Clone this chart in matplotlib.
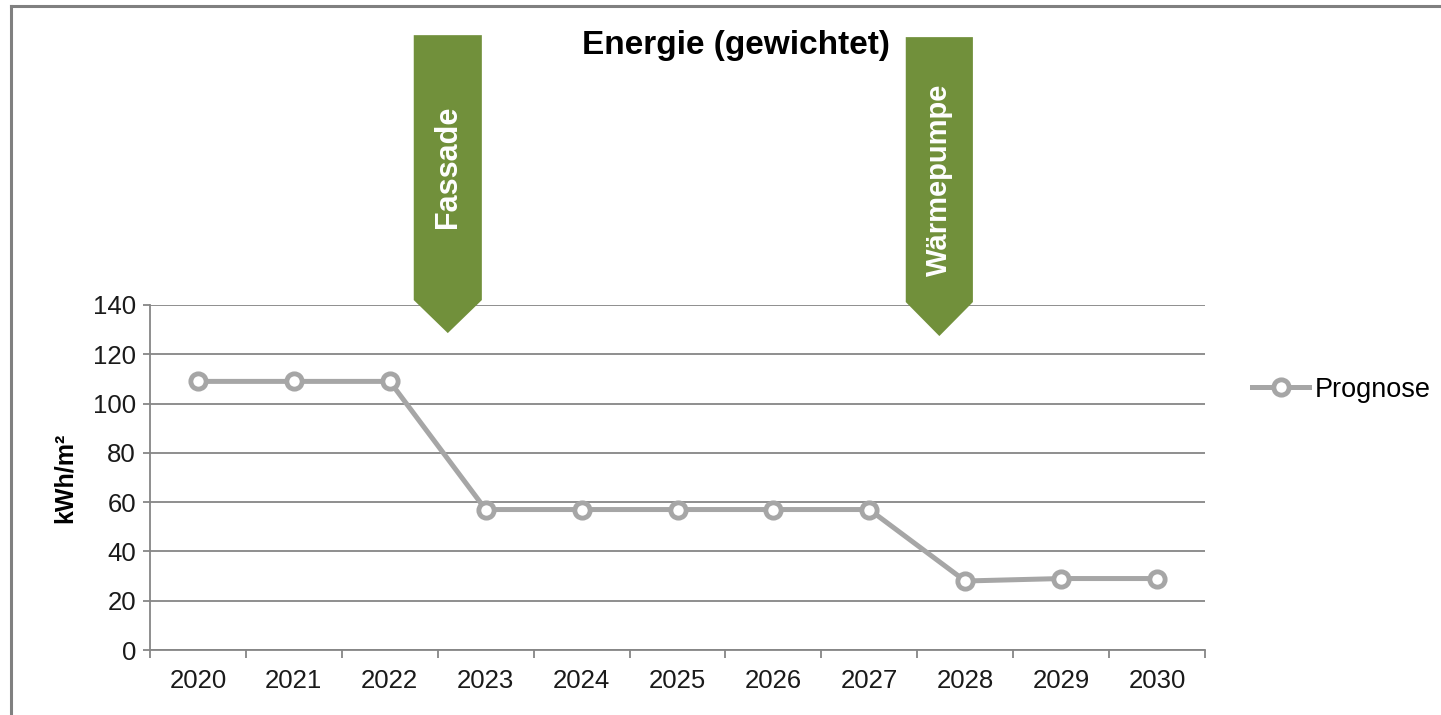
import matplotlib
matplotlib.use("Agg")
import matplotlib.pyplot as plt
from matplotlib.patches import Polygon
from matplotlib.lines import Line2D
import numpy as np

plt.rcParams['font.family'] = ['Liberation Sans', 'DejaVu Sans']

years = ['2020', '2021', '2022', '2023', '2024', '2025', '2026', '2027', '2028', '2029', '2030']
prognose = [109, 109, 109, 57, 57, 57, 57, 57, 28, 29, 29]
y_ticks = [0, 20, 40, 60, 80, 100, 120, 140]

# measure markers: label, left, right, top, box bottom, tip, text y (data units)
markers = [
    ("Fassade", 2.25, 2.96, 249.5, 142.0, 128.6, 196.0),
    ("Wärmepumpe", 7.38, 8.08, 248.7, 141.2, 127.4, 191.0),
]

line_grey = '#a6a6a6'
grid_grey = '#868686'
green = '#71903b'

fig = plt.figure(figsize=(14.41, 7.15), dpi=100)
ax = fig.add_axes([150 / 1441, 65 / 715, 1055 / 1441, 345 / 715])

x = np.arange(len(years))
ax.plot(x, prognose, color=line_grey, lw=3.6, marker='o', ms=11,
        mfc='white', mec=line_grey, mew=3.5, label='Prognose', zorder=3)

ax.set_xlim(-0.5, len(years) - 0.5)
ax.set_ylim(0, 140)
ax.set_yticks(y_ticks)
ax.set_xticks(x)
ax.set_xticklabels(years)
ax.set_xticks(np.arange(len(years) + 1) - 0.5, minor=True)

ax.grid(axis='y', color=grid_grey, lw=1.3, zorder=1)
for s in ['top', 'right']:
    ax.spines[s].set_visible(False)
for s in ['left', 'bottom']:
    ax.spines[s].set_color(grid_grey)
    ax.spines[s].set_linewidth(1.3)

ax.tick_params(axis='y', length=5, width=1.3, color=grid_grey, pad=5,
               labelsize=18.5, labelcolor='#1a1a1a')
ax.tick_params(axis='x', which='major', length=0, pad=14, labelsize=18.5,
               labelcolor='#1a1a1a')
ax.tick_params(axis='x', which='minor', length=6, width=1.3, color=grid_grey)

ax.set_ylabel('kWh/m²', fontsize=18, fontweight='bold', labelpad=12)

for label, left, right, top, bottom, tip, ty in markers:
    mid = (left + right) / 2
    poly = Polygon([(left, top), (right, top), (right, bottom), (mid, tip), (left, bottom)],
                   closed=True, facecolor=green, edgecolor='none', clip_on=False, zorder=4)
    ax.add_patch(poly)
    ax.text(mid, ty, label, rotation=90, ha='center', va='center', color='white',
            fontsize=22 if label == 'Fassade' else 21, fontweight='bold',
            zorder=5, clip_on=False)

ax.legend(loc='center left', bbox_to_anchor=(1.045, 0.754), frameon=False,
          fontsize=19.5, handlelength=2.1, handletextpad=0.2, borderpad=0,
          borderaxespad=0)

fig.text(0.511, 0.937, 'Energie (gewichtet)', ha='center', va='center',
         fontsize=24, fontweight='bold')

# chart frame (top and left edges visible)
fig.add_artist(Line2D([11 / 1441, 11 / 1441], [0, 1 - 6 / 715], color='#808080', lw=2.2,
                      transform=fig.transFigure))
fig.add_artist(Line2D([11 / 1441, 1], [1 - 6 / 715, 1 - 6 / 715], color='#808080', lw=2.2,
                      transform=fig.transFigure))

fig.savefig('out.png', dpi=100)
